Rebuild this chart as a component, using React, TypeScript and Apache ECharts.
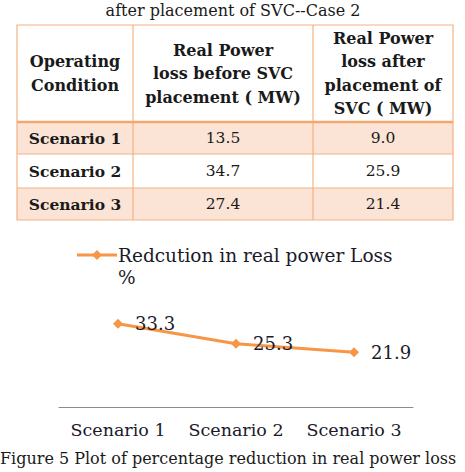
import React, { useEffect, useRef } from "react";
import * as echarts from "echarts";

const tableTitle = "after placement of SVC--Case 2";
const headers = [
  "Operating\nCondition",
  "Real Power\nloss before SVC\nplacement ( MW)",
  "Real Power\nloss after\nplacement of\nSVC ( MW)",
];
const scenarios = ["Scenario 1", "Scenario 2", "Scenario 3"];
const lossBefore = ["13.5", "34.7", "27.4"];
const lossAfter = ["9.0", "25.9", "21.4"];
const reduction = [33.3, 25.3, 21.9];
const seriesName = "Redcution in real power Loss";
const caption = "Figure 5 Plot of percentage reduction in real power loss";

const ORANGE = "#f79646";
const BORDER = "#f4b183";
const FILL = "#fbe4d5";
const SERIF = "DejaVu Serif";

export default function App() {
  const ref = useRef<HTMLDivElement>(null);
  useEffect(() => {
    document.body.style.margin = "0";
    const chart = echarts.init(ref.current!, null, { renderer: "svg" });

    const tx0 = 17, tx1 = 133, tx2 = 313, tx3 = 453;
    const ty0 = 25, tyH = 122;
    const rowH = [32, 34, 32];
    const colC = [(tx0 + tx1) / 2, (tx1 + tx2) / 2, (tx2 + tx3) / 2];

    const g: any[] = [];
    g.push({
      type: "text",
      x: 233, y: 10,
      style: { text: tableTitle, font: `16px "${SERIF}"`, fill: "#1a1a1a", align: "center", verticalAlign: "middle" },
    });
    let yy = tyH;
    const rowY: number[] = [];
    scenarios.forEach((_, i) => {
      rowY.push(yy);
      if (i % 2 === 0) {
        g.push({ type: "rect", shape: { x: tx0, y: yy, width: tx3 - tx0, height: rowH[i] }, style: { fill: FILL } });
      }
      yy += rowH[i];
    });
    const tyEnd = yy;
    g.push({ type: "rect", shape: { x: tx0, y: ty0, width: tx3 - tx0, height: tyEnd - ty0 }, style: { fill: "none", stroke: BORDER, lineWidth: 1.2 } });
    [tx1, tx2].forEach((x) => g.push({ type: "line", shape: { x1: x, y1: ty0, x2: x, y2: tyEnd }, style: { stroke: BORDER, lineWidth: 1.2 } }));
    g.push({ type: "line", shape: { x1: tx0, y1: tyH, x2: tx3, y2: tyH }, style: { stroke: "#f4a870", lineWidth: 2.5 } });
    rowY.slice(1).forEach((y) => g.push({ type: "line", shape: { x1: tx0, y1: y, x2: tx3, y2: y }, style: { stroke: BORDER, lineWidth: 1.2 } }));
    headers.forEach((h, i) => {
      g.push({
        type: "text",
        x: colC[i], y: (ty0 + tyH) / 2,
        style: { text: h, font: `bold 16px "${SERIF}"`, fill: "#1a1a1a", align: "center", verticalAlign: "middle", lineHeight: 23.5 },
      });
    });
    scenarios.forEach((s, i) => {
      const cy = rowY[i] + rowH[i] / 2;
      const cells = [s, lossBefore[i], lossAfter[i]];
      cells.forEach((c, j) => {
        g.push({
          type: "text",
          x: colC[j], y: cy,
          style: { text: c, font: `${j === 0 ? "bold " : ""}15.5px "${SERIF}"`, fill: "#1a1a1a", align: "center", verticalAlign: "middle" },
        });
      });
    });
    // legend
    g.push({ type: "line", shape: { x1: 77, y1: 255, x2: 117, y2: 255 }, style: { stroke: ORANGE, lineWidth: 3 } });
    g.push({ type: "polygon", shape: { points: [[97, 250], [102, 255], [97, 260], [92, 255]] }, style: { fill: ORANGE } });
    g.push({
      type: "text",
      x: 118, y: 244,
      style: { text: seriesName + "\n%", font: `18.5px "${SERIF}"`, fill: "#1a1a2a", align: "left", verticalAlign: "top", lineHeight: 22 },
    });
    g.push({
      type: "text",
      x: 0, y: 458,
      style: { text: caption, font: `16px "${SERIF}"`, fill: "#1a1a1a", align: "left", verticalAlign: "middle" },
    });

    chart.setOption({
      animation: false,
      backgroundColor: "#ffffff",
      grid: { left: 59, right: 52, top: 307, bottom: 65, containLabel: false },
      xAxis: {
        type: "category",
        data: scenarios,
        boundaryGap: true,
        axisLine: { lineStyle: { color: "#8c8c8c", width: 1 } },
        axisTick: { show: false },
        axisLabel: { interval: 0, hideOverlap: false, fontFamily: SERIF, fontSize: 17.5, color: "#1a1a2a", margin: 14 },
      },
      yAxis: { type: "value", min: 0, max: 40, show: false, splitLine: { show: false } },
      series: [
        {
          name: seriesName,
          type: "line",
          data: reduction,
          symbol: "diamond",
          symbolSize: 10,
          itemStyle: { color: ORANGE },
          lineStyle: { color: ORANGE, width: 3 },
          label: { show: true, position: "right", distance: 12, fontFamily: SERIF, fontSize: 18, color: "#1a1a2a" },
        },
      ],
      graphic: g,
    });
    return () => chart.dispose();
  }, []);
  return <div ref={ref} style={{ width: 465, height: 472 }} />;
}
